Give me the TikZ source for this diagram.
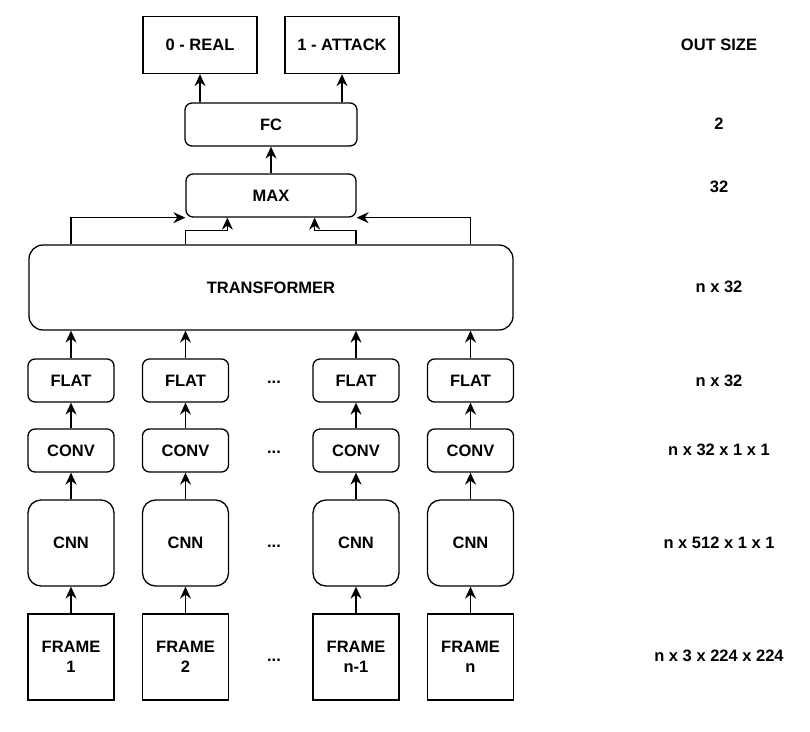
\documentclass[tikz,border=0pt]{standalone}
\usepackage{fontspec}
\setmainfont{Liberation Sans}
\usetikzlibrary{arrows.meta}
\begin{document}
\begin{tikzpicture}[x=1pt,y=-1pt,line width=1.3pt,
  font=\fontsize{16.5}{19.5}\selectfont\bfseries,
  box/.style={draw,inner sep=0pt,align=center,minimum width=86pt},
  rbox/.style={box,rounded corners=7pt,minimum height=43pt},
  sqbox/.style={box,minimum height=86pt},
  arr/.style={-{Stealth[length=12pt,width=11pt,inset=4pt]}},
  size/.style={inner sep=0pt}]
\useasboundingbox (0,0) rectangle (810,731);
% outputs
\node [box,minimum width=114pt,minimum height=57pt] (real) at (200,45) {0 - REAL};
\node [box,minimum width=114pt,minimum height=57pt] (attack) at (342,45) {1 - ATTACK};
\node [rbox,minimum width=172pt] (fc) at (271,124.5) {FC};
\node [rbox,minimum width=170pt] (max) at (271,195.5) {MAX};
\node [box,rounded corners=14pt,minimum width=484pt,minimum height=85pt] (trans) at (271,287.5) {TRANSFORMER};
% columns
\node [rbox] (flat1) at (71,380.5) {FLAT};
\node [rbox] (flat2) at (185.5,380.5) {FLAT};
\node [rbox] (flat3) at (356,380.5) {FLAT};
\node [rbox] (flat4) at (470.5,380.5) {FLAT};
\node [rbox] (conv1) at (71,450.5) {CONV};
\node [rbox] (conv2) at (185.5,450.5) {CONV};
\node [rbox] (conv3) at (356,450.5) {CONV};
\node [rbox] (conv4) at (470.5,450.5) {CONV};
\node [sqbox,rounded corners=13pt] (cnn1) at (71,543) {CNN};
\node [sqbox,rounded corners=13pt] (cnn2) at (185.5,543) {CNN};
\node [sqbox,rounded corners=13pt] (cnn3) at (356,543) {CNN};
\node [sqbox,rounded corners=13pt] (cnn4) at (470.5,543) {CNN};
\node [sqbox] (frame1) at (71,657) {FRAME\\1};
\node [sqbox] (frame2) at (185.5,657) {FRAME\\2};
\node [sqbox] (frame3) at (356,657) {FRAME\\n-1};
\node [sqbox] (frame4) at (470.5,657) {FRAME\\n};
% dots
\node (dflat) at (274,382) {...};
\node (dconv) at (274,452) {...};
\node (dcnn) at (274,546) {...};
\node (dframe) at (274,660) {...};
% sizes
\node [size] (sout) at (719,45) {OUT SIZE};
\node [size] (sfc) at (719,124) {2};
\node [size] (smax) at (719,187) {32};
\node [size] (strans) at (719,287) {n x 32};
\node [size] (sflat) at (719,381) {n x 32};
\node [size] (sconv) at (719,450) {n x 32 x 1 x 1};
\node [size] (scnn) at (719,543) {n x 512 x 1 x 1};
\node [size] (sframe) at (719,656) {n x 3 x 224 x 224};
% arrows
\foreach \i in {1,2,3,4} {
  \draw [arr] (frame\i) -- (cnn\i);
  \draw [arr] (cnn\i) -- (conv\i);
  \draw [arr] (conv\i) -- (flat\i);
  \draw [arr] (flat\i.north) -- (flat\i.north |- trans.south);
}
\draw [arr] (trans.north -| flat1) |- (max.south west);
\draw [arr] (trans.north -| flat2) -- ++(0,-14) -| ([xshift=42pt]max.south west);
\draw [arr] (trans.north -| flat3) -- ++(0,-14) -| ([xshift=-42pt]max.south east);
\draw [arr] (trans.north -| flat4) |- (max.south east);
\draw [arr] (max) -- (fc);
\draw [arr] (fc.north -| real) -- (real);
\draw [arr] (fc.north -| attack) -- (attack);
\end{tikzpicture}
\end{document}
